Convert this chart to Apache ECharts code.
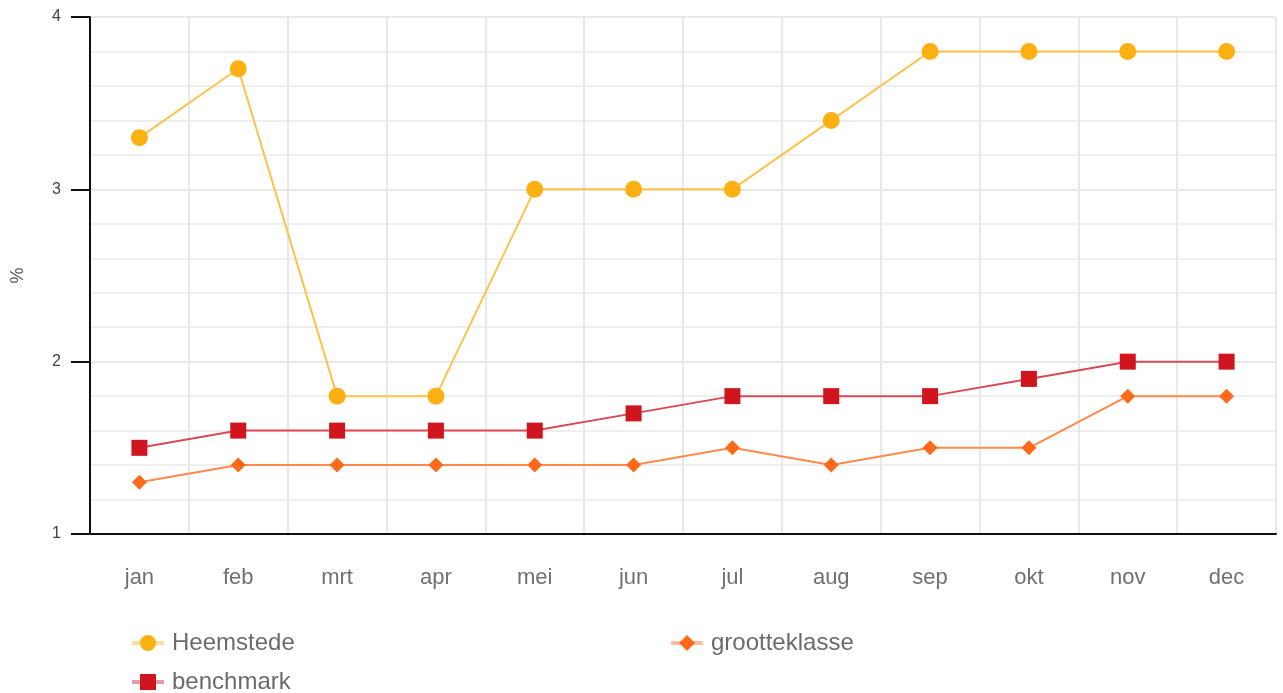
<!DOCTYPE html>
<html>
<head>
<meta charset="utf-8">
<script src="https://cdn.jsdelivr.net/npm/echarts@6/dist/echarts.min.js"></script>
<style>
html,body{margin:0;padding:0;background:#fff;}
#chart{width:1283px;height:693px;}
</style>
</head>
<body>
<div id="chart"></div>
<script>
const months = ['jan','feb','mrt','apr','mei','jun','jul','aug','sep','okt','nov','dec'];
const heemstede = [3.3, 3.7, 1.8, 1.8, 3.0, 3.0, 3.0, 3.4, 3.8, 3.8, 3.8, 3.8];
const benchmark = [1.5, 1.6, 1.6, 1.6, 1.6, 1.7, 1.8, 1.8, 1.8, 1.9, 2.0, 2.0];
const grootteklasse = [1.3, 1.4, 1.4, 1.4, 1.4, 1.4, 1.5, 1.4, 1.5, 1.5, 1.8, 1.8];
const yTicks = [1, 2, 3, 4];

const chart = echarts.init(document.getElementById('chart'), null, {renderer:'canvas'});
const font = 'Liberation Sans, Arial, sans-serif';
const legendBase = {
  orient: 'horizontal', itemWidth: 32, itemHeight: 20, padding: 0, itemGap: 0,
  lineStyle: {width: 4, opacity: 0.55},
  textStyle: {fontFamily: font, fontSize: 24, color: '#6b6b6b', padding: [0, 0, 0, 3]}
};
chart.setOption({
  animation: false,
  grid: {left: 90, right: 7, top: 17, bottom: 159, outerBoundsMode: 'none', containLabel: false},
  legend: [
    Object.assign({data: ['Heemstede'], left: 130, top: 631}, legendBase),
    Object.assign({data: ['benchmark'], left: 130, top: 670}, legendBase),
    Object.assign({data: ['grootteklasse'], left: 669, top: 631}, legendBase)
  ],
  xAxis: {
    type: 'category', data: months, boundaryGap: true,
    axisLine: {lineStyle: {color: '#111', width: 2}},
    axisTick: {show: false},
    axisLabel: {margin: 33, fontFamily: font, fontSize: 22, color: '#707070'},
    splitLine: {show: true, interval: 0, lineStyle: {color: '#e8e8e8', width: 2}}
  },
  yAxis: {
    type: 'value', min: yTicks[0], max: yTicks[yTicks.length-1], interval: 1,
    name: '%', nameLocation: 'middle', nameGap: 63, nameRotate: 90,
    nameTextStyle: {fontFamily: font, fontSize: 18, color: '#555'},
    axisLine: {show: true, lineStyle: {color: '#111', width: 2}},
    axisTick: {show: true, length: 19, lineStyle: {color: '#111', width: 2}},
    axisLabel: {margin: 29, fontFamily: font, fontSize: 16, color: '#444'},
    splitLine: {show: true, lineStyle: {color: '#e8e8e8', width: 2}},
    minorTick: {show: false, splitNumber: 5},
    minorSplitLine: {show: true, lineStyle: {color: '#efefef', width: 2}}
  },
  series: [
    {name: 'Heemstede', type: 'line', data: heemstede, symbol: 'circle', symbolSize: 17,
     itemStyle: {color: '#fdb012'}, lineStyle: {color: '#fdc24a', width: 2}, z: 3},
    {name: 'grootteklasse', type: 'line', data: grootteklasse, symbol: 'diamond', symbolSize: 15,
     itemStyle: {color: '#ff6a1a'}, lineStyle: {color: '#ff8a4d', width: 2}, z: 2},
    {name: 'benchmark', type: 'line', data: benchmark, symbol: 'rect', symbolSize: 16,
     itemStyle: {color: '#d0151f'}, lineStyle: {color: '#d84a55', width: 2}, z: 4}
  ]
});
</script>
</body>
</html>
